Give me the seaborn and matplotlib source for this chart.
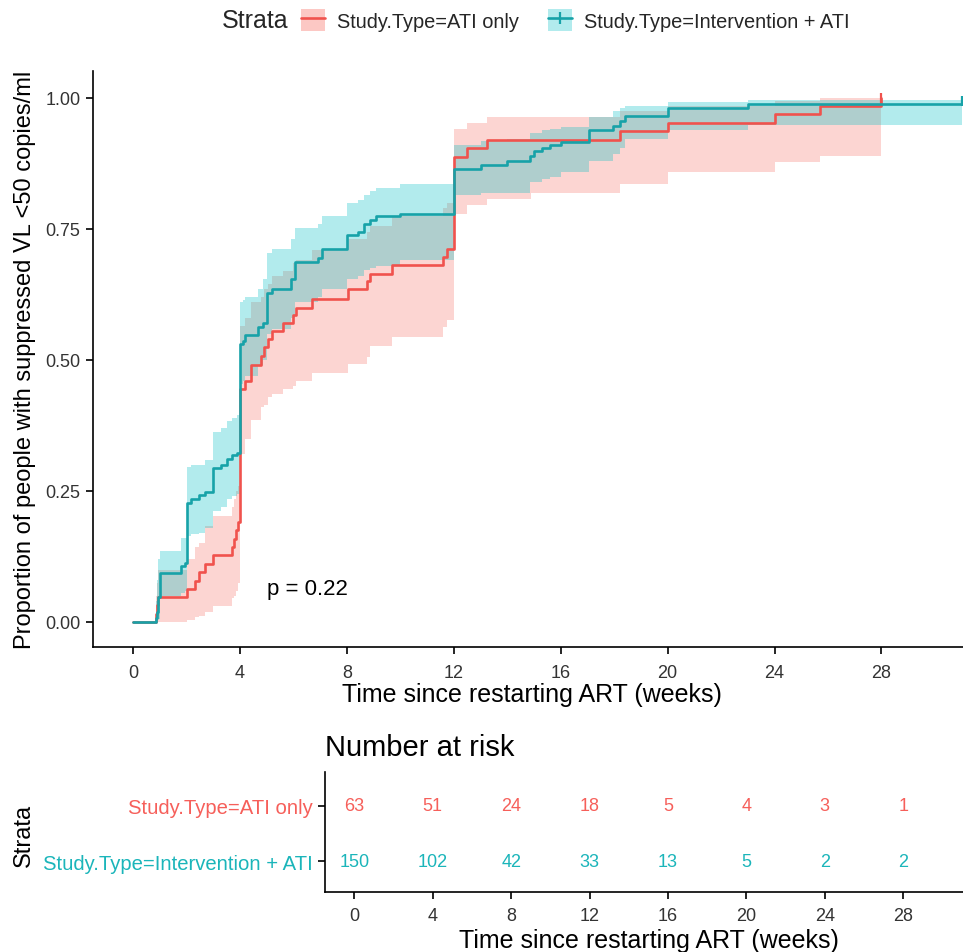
import numpy as np
import pandas as pd
import matplotlib
matplotlib.use("Agg")
import matplotlib.pyplot as plt
import seaborn as sns
from matplotlib.patches import Patch
from matplotlib.lines import Line2D
from matplotlib.legend_handler import HandlerTuple

# ---------------- data ----------------
# ATI only (step-post): time (weeks), estimate, lower CI, upper CI
ati_t  = [0, 0.85, 0.9, 0.95, 2.0, 2.3, 2.45, 2.7, 3.0, 3.7, 3.78, 3.85, 3.92,
          4.0, 4.2, 4.4, 4.8, 4.9, 5.05, 5.2, 5.6, 6.0, 6.1, 6.7, 8.05, 8.75,
          8.85, 9.7, 11.6, 11.75, 12.0, 12.5, 13.25, 14.9, 18.2, 20.0, 24.0, 25.7, 28.0]
ati_est = [0, 0.016, 0.032, 0.048, 0.063, 0.079, 0.095, 0.111, 0.127, 0.143, 0.159, 0.175, 0.19,
           0.444, 0.46, 0.49, 0.508, 0.524, 0.54, 0.555, 0.57, 0.585, 0.60, 0.617, 0.635, 0.65,
           0.665, 0.681, 0.697, 0.712, 0.887, 0.905, 0.92, 0.92, 0.937, 0.953, 0.969, 0.984, 1.0]
ati_lo = [0, 0, 0, 0, 0.003, 0.01, 0.012, 0.02, 0.03, 0.045, 0.05, 0.06, 0.075,
          0.32, 0.35, 0.385, 0.41, 0.415, 0.43, 0.435, 0.445, 0.45, 0.46, 0.475, 0.493, 0.505,
          0.526, 0.544, 0.563, 0.577, 0.778, 0.796, 0.807, 0.818, 0.836, 0.858, 0.877, 0.89, 0.89]
ati_hi = [0, 0.05, 0.075, 0.10, 0.12, 0.143, 0.15, 0.184, 0.203, 0.22, 0.235, 0.25, 0.26,
          0.565, 0.58, 0.61, 0.62, 0.635, 0.645, 0.66, 0.67, 0.685, 0.69, 0.71, 0.73, 0.745,
          0.755, 0.775, 0.79, 0.80, 0.94, 0.953, 0.963, 0.963, 0.975, 0.985, 0.995, 1.0, 1.0]

# Intervention + ATI
int_t = [0, 0.85, 0.9, 0.95, 1.0, 1.8, 1.95, 2.0, 2.15, 2.45, 2.7, 3.0, 3.3, 3.5, 3.7, 3.9,
         4.0, 4.1, 4.2, 4.67, 4.86, 5.0, 5.2, 5.9, 6.05, 6.9, 7.06, 8.0, 8.4, 8.65, 8.85,
         9.1, 10.0, 12.0, 13.0, 14.0, 14.85, 15.0, 15.3, 15.6, 16.0, 17.05, 17.96, 18.2,
         18.4, 20.0, 23.0, 31.0]
int_est = [0, 0.007, 0.02, 0.047, 0.093, 0.107, 0.113, 0.227, 0.235, 0.242, 0.249, 0.293, 0.30,
           0.311, 0.318, 0.322, 0.53, 0.537, 0.548, 0.563, 0.57, 0.628, 0.636, 0.654, 0.687,
           0.694, 0.712, 0.738, 0.745, 0.76, 0.767, 0.774, 0.779, 0.865, 0.872, 0.88, 0.89,
           0.898, 0.905, 0.911, 0.916, 0.938, 0.947, 0.957, 0.966, 0.98, 0.988, 0.995]
int_lo = [0, 0, 0, 0.005, 0.05, 0.055, 0.06, 0.165, 0.168, 0.17, 0.18, 0.212, 0.22,
          0.235, 0.24, 0.245, 0.455, 0.46, 0.47, 0.49, 0.50, 0.55, 0.56, 0.58, 0.61,
          0.62, 0.635, 0.655, 0.66, 0.672, 0.676, 0.68, 0.69, 0.814, 0.818, 0.818, 0.84,
          0.84, 0.845, 0.85, 0.858, 0.88, 0.893, 0.905, 0.922, 0.939, 0.948, 0.948]
int_hi = [0, 0.04, 0.08, 0.12, 0.136, 0.16, 0.16, 0.295, 0.30, 0.30, 0.31, 0.362, 0.37,
          0.384, 0.39, 0.395, 0.61, 0.615, 0.62, 0.635, 0.655, 0.705, 0.712, 0.73, 0.752,
          0.76, 0.774, 0.80, 0.805, 0.815, 0.822, 0.829, 0.836, 0.91, 0.917, 0.922, 0.934,
          0.934, 0.938, 0.94, 0.945, 0.963, 0.976, 0.98, 0.985, 0.993, 0.996, 1.0]

strata = ["Study.Type=ATI only", "Study.Type=Intervention + ATI"]
risk_weeks = [0, 4, 8, 12, 16, 20, 24, 28]
risk_ati = [63, 51, 24, 18, 5, 4, 3, 1]
risk_int = [150, 102, 42, 33, 13, 5, 2, 2]
p_text = "p = 0.22"

# ---------------- style ----------------
sns.set_theme(style="white")
plt.rcParams["font.family"] = ["Liberation Sans", "DejaVu Sans"]

RED_LINE, TEAL_LINE = "#F0524D", "#17A2A8"
RED_FILL, TEAL_FILL = "#F8766D", "#00BFC4"
RED_TXT, TEAL_TXT = "#F65F5A", "#1BB5BA"
TICK_C = "#333333"

W, H = 963, 953
fig = plt.figure(figsize=(W / 100, H / 100), dpi=100)

def fx(px):
    return px / W

def fy(py):
    return 1 - py / H

ax = fig.add_axes([fx(93), fy(648), fx(963 - 93), (648 - 72) / H])
rax = fig.add_axes([fx(325), fy(893), fx(963 - 325), (893 - 773) / H])

df_ati = pd.DataFrame({"t": ati_t, "est": ati_est, "lo": ati_lo, "hi": ati_hi})
df_int = pd.DataFrame({"t": int_t, "est": int_est, "lo": int_lo, "hi": int_hi})

for df, fc in [(df_ati, RED_FILL), (df_int, TEAL_FILL)]:
    ax.fill_between(df["t"], df["lo"], df["hi"], step="post", color=fc,
                    alpha=0.3, linewidth=0)

sns.lineplot(data=df_ati, x="t", y="est", ax=ax, color=RED_LINE, lw=1.9,
             drawstyle="steps-post", estimator=None)
sns.lineplot(data=df_int, x="t", y="est", ax=ax, color=TEAL_LINE, lw=1.9,
             drawstyle="steps-post", estimator=None)
# censor marks at the ends
ax.plot([ati_t[-1]], [ati_est[-1]], marker="|", ms=7, mew=1.6, color=RED_LINE, ls="none")
ax.plot([int_t[-1]], [int_est[-1]], marker="|", ms=7, mew=1.6, color=TEAL_LINE, ls="none")

ax.set_xlim(-1.5, 31.05)
ax.set_ylim(-25 / 524, 1 + 27 / 524)
ax.set_xticks(risk_weeks)
ax.set_yticks([0, 0.25, 0.5, 0.75, 1.0])
ax.set_yticklabels(["0.00", "0.25", "0.50", "0.75", "1.00"])
for s in ["top", "right"]:
    ax.spines[s].set_visible(False)
for s in ["left", "bottom"]:
    ax.spines[s].set_color("black")
    ax.spines[s].set_linewidth(1.2)
ax.tick_params(axis="both", direction="out", length=5, width=1.2, color="black",
               labelsize=13, labelcolor=TICK_C, pad=4, bottom=True, left=True)
ax.tick_params(axis="x", pad=7)
ax.set_xlabel("Time since restarting ART (weeks)", fontsize=18, color="black")
ax.set_ylabel("Proportion of people with suppressed VL <50 copies/ml", fontsize=17, color="black")
ax.xaxis.set_label_coords(0.505, -0.061)
ax.yaxis.set_label_coords(-0.066, 0.5)
ax.text(5.0, 0.063, p_text, fontsize=16, ha="left", va="center", color="black")

# legend
fig.text(fx(222), fy(21), "Strata", fontsize=18, ha="left", va="center")
h_red = (Patch(facecolor=RED_FILL, alpha=0.4, edgecolor="none"),
         Line2D([], [], color=RED_LINE, lw=1.9))
h_teal = (Patch(facecolor=TEAL_FILL, alpha=0.3, edgecolor="none"),
          Line2D([], [], color=TEAL_LINE, lw=1.9, marker="|", ms=8, mew=1.6))
fig.legend([h_red, h_teal], strata, handler_map={tuple: HandlerTuple(ndivide=1)},
           loc="center left", bbox_to_anchor=(fx(301), fy(21)), ncol=2, frameon=False,
           fontsize=14.4, handlelength=1.2, handleheight=1.3, handletextpad=0.6,
           columnspacing=1.45, borderaxespad=0, borderpad=0)

# ---------------- risk table ----------------
rows = pd.DataFrame({
    "week": risk_weeks * 2,
    "row": [0] * len(risk_weeks) + [1] * len(risk_weeks),
    "n": risk_ati + risk_int,
})
for _, r in rows.iterrows():
    rax.text(r["week"], r["row"], str(int(r["n"])), ha="center", va="center",
             fontsize=13, color=RED_TXT if r["row"] == 0 else TEAL_TXT)
rax.set_xlim(-1.5, 31.05)
rax.set_ylim(1.562, -0.617)
rax.set_xticks(risk_weeks)
rax.set_yticks([0, 1])
rax.set_yticklabels(strata)
for lbl, c in zip(rax.get_yticklabels(), [RED_TXT, TEAL_TXT]):
    lbl.set_color(c)
    lbl.set_fontsize(14.6)
for s in ["top", "right"]:
    rax.spines[s].set_visible(False)
for s in ["left", "bottom"]:
    rax.spines[s].set_color("black")
    rax.spines[s].set_linewidth(1.2)
rax.tick_params(axis="both", direction="out", length=5, width=1.2, color="black",
                pad=4, bottom=True, left=True)
rax.tick_params(axis="x", labelsize=13, labelcolor=TICK_C, pad=6)
rax.set_xlabel("Time since restarting ART (weeks)", fontsize=18, color="black")
rax.xaxis.set_label_coords(0.508, -0.30)
rax.set_ylabel("Strata", fontsize=17, color="black")
rax.yaxis.set_label_coords(-0.455, 0.48)
rax.set_title("Number at risk", loc="left", fontsize=21, pad=12, color="black")

fig.savefig("out.png", dpi=100, facecolor="white")
